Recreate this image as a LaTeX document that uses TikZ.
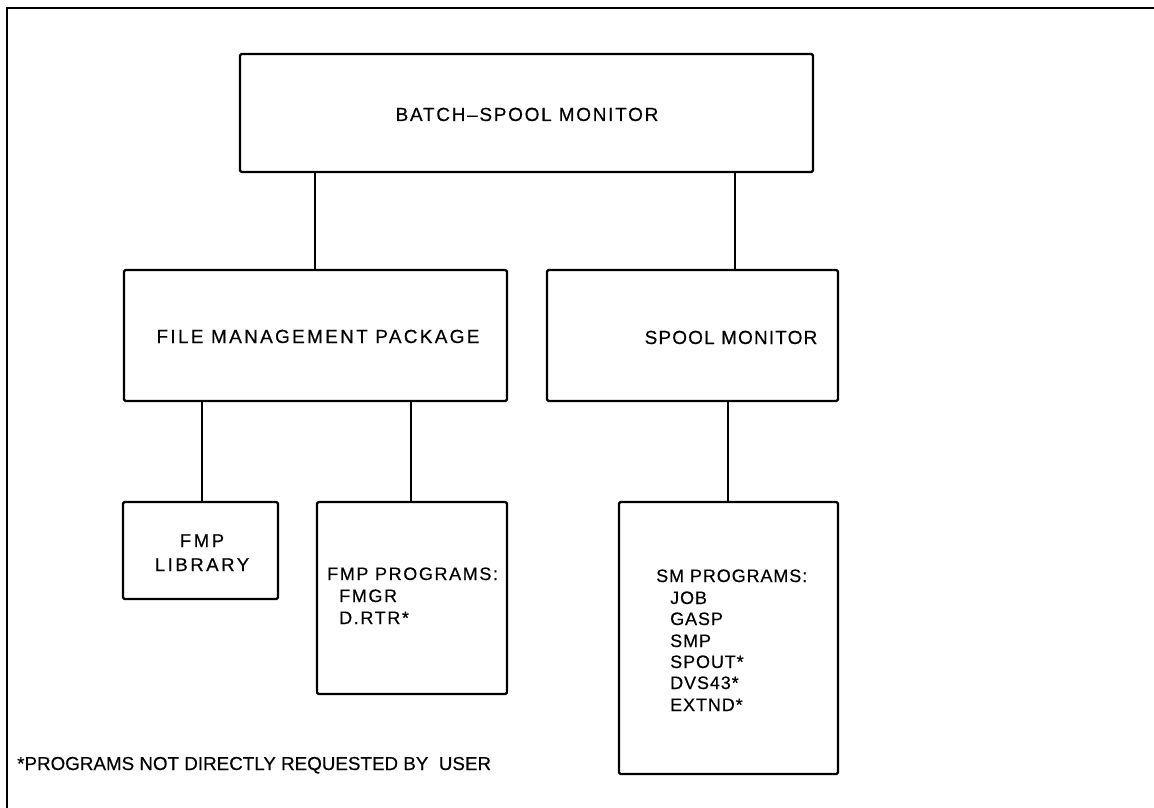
\documentclass[tikz,border=0pt]{standalone}
\usepackage{fontspec}
\setmainfont{Liberation Sans}
% letter-spaced variants of the sans face, slightly emboldened
\newfontfamily\lsWide{Liberation Sans}[LetterSpace=12,FakeBold=0.4]
\newfontfamily\lsMid{Liberation Sans}[LetterSpace=9,FakeBold=0.4]
\newfontfamily\lsNarrow{Liberation Sans}[LetterSpace=6,FakeBold=0.4]
\newfontfamily\lsLib{Liberation Sans}[LetterSpace=14,FakeBold=0.4]
\newfontfamily\lsSm{Liberation Sans}[LetterSpace=5,FakeBold=0.4]
\newfontfamily\lsPlain{Liberation Sans}[FakeBold=0.4]
\newcommand\fTop{\lsMid\fontsize{19}{22}\selectfont}
\newcommand\fPkg{\lsWide\fontsize{19}{22}\selectfont}
\newcommand\fSpool{\lsNarrow\fontsize{19}{22}\selectfont}
\newcommand\fLib{\lsLib\fontsize{18.5}{22}\selectfont}
\newcommand\fFmp{\lsMid\fontsize{18}{22}\selectfont}
\newcommand\fSm{\lsSm\fontsize{18}{21}\selectfont}
\newcommand\fNote{\lsPlain\fontsize{18.8}{22}\selectfont}
\begin{document}
\begin{tikzpicture}[x=1pt,y=-1pt,
  box/.style={draw, line width=2.2pt, rounded corners=1.5pt, inner sep=0pt, outer sep=0pt},
  wire/.style={line width=1.6pt},
  frame/.style={line width=2pt},
  txt/.style={inner sep=0pt, anchor=base},
  ltxt/.style={inner sep=0pt, anchor=base west}]
\useasboundingbox (0,0) rectangle (1154,808);

% outer frame (left and top edges)
\coordinate (fbl) at (7,808);
\coordinate (ftl) at (7,8);
\coordinate (ftr) at (1154,8);
\draw[frame] (fbl) -- (ftl) -- (ftr);

% boxes
\node[box, minimum width=573pt, minimum height=118pt] (top)   at (526.5,113) {};
\node[box, minimum width=383pt, minimum height=131pt] (fmp)   at (315.5,335.5) {};
\node[box, minimum width=291pt, minimum height=131pt] (spool) at (692.5,335.5) {};
\node[box, minimum width=155pt, minimum height=97pt]  (lib)   at (200.5,550.5) {};
\node[box, minimum width=190pt, minimum height=192pt] (fprog) at (412,598) {};
\node[box, minimum width=219pt, minimum height=272pt] (sprog) at (728.5,638) {};

% connector columns
\coordinate (cA) at (315,0);
\coordinate (cB) at (735,0);
\coordinate (cC) at (202,0);
\coordinate (cD) at (411,0);
\coordinate (cE) at (728,0);

\draw[wire] (top.south -| cA) -- (fmp.north -| cA);
\draw[wire] (top.south -| cB) -- (spool.north -| cB);
\draw[wire] (fmp.south -| cC) -- (lib.north -| cC);
\draw[wire] (fmp.south -| cD) -- (fprog.north -| cD);
\draw[wire] (spool.south -| cE) -- (sprog.north -| cE);

% labels
\node[txt, font=\fTop]   (tTop)   at (527,121) {BATCH–SPOOL MONITOR};
\node[txt, font=\fPkg]   (tPkg)   at (318,343) {FILE MANAGEMENT PACKAGE};
\node[txt, font=\fSpool] (tSpool) at (731,344) {SPOOL MONITOR};

\node[txt, font=\fLib] (tLibA) at (202,547) {FMP};
\node[txt, font=\fLib] (tLibB) at (202,571) {LIBRARY};

\node[ltxt, font=\fFmp] (tFp0) at (327,580) {FMP PROGRAMS:};
\node[ltxt, font=\fFmp] (tFp1) at (339,602) {FMGR};
\node[ltxt, font=\fFmp] (tFp2) at (339,624) {D.RTR*};

\node[ltxt, font=\fSm] (tSm0) at (656,582) {SM PROGRAMS:};
\node[ltxt, font=\fSm] (tSm1) at (670,604) {JOB};
\node[ltxt, font=\fSm] (tSm2) at (670,625) {GASP};
\node[ltxt, font=\fSm] (tSm3) at (670,647) {SMP};
\node[ltxt, font=\fSm] (tSm4) at (670,668) {SPOUT*};
\node[ltxt, font=\fSm] (tSm5) at (670,689) {DVS43*};
\node[ltxt, font=\fSm] (tSm6) at (670,711) {EXTND*};

\node[ltxt, font=\fNote] (tNote) at (17,770) {*PROGRAMS NOT DIRECTLY REQUESTED BY~~USER};
\end{tikzpicture}
\end{document}
